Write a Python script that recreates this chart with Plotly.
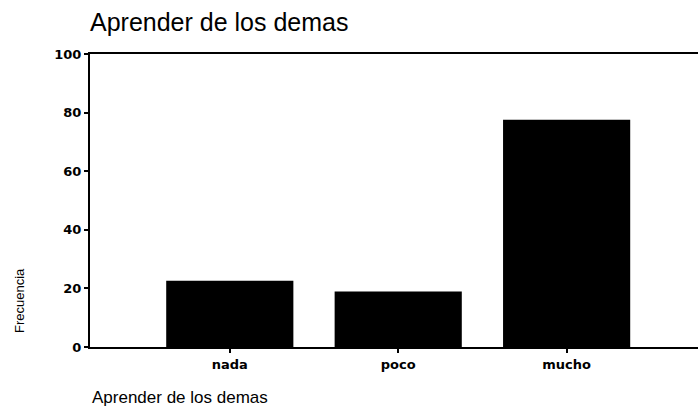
import plotly.graph_objects as go

# valores
categorias = ['nada', 'poco', 'mucho']
frecuencias = [22.6, 18.9, 77.6]
ticks_y = [0, 20, 40, 60, 80, 100]

FONT = 'Liberation Sans, Arial, sans-serif'
TICKFONT = {'family': 'DejaVu Sans', 'size': 13, 'color': 'black', 'weight': 'bold'}

fig = go.Figure()
fig.add_trace(go.Bar(x=categorias,
                     y=frecuencias,
                     width=0.755,
                     marker={'color': 'black', 'line': {'width': 0}},
                     showlegend=False))

fig.update_xaxes(range=[-0.83, 2.78],
                 showline=True, linecolor='black', linewidth=2,
                 mirror=True,
                 ticks='outside', ticklen=4, tickwidth=2, tickcolor='black',
                 showgrid=False, zeroline=False,
                 tickfont=TICKFONT)
fig.update_yaxes(range=[0, 100],
                 tickvals=ticks_y,
                 showline=True, linecolor='black', linewidth=2,
                 ticks='outside', ticklen=4, tickwidth=2, tickcolor='black',
                 showgrid=False, zeroline=False,
                 tickfont=TICKFONT)

fig.update_layout(width=698, height=409,
                  margin={'l': 90, 'r': 0, 't': 54, 'b': 62},
                  paper_bgcolor='white', plot_bgcolor='white',
                  title={'text': 'Aprender de los demas',
                         'font': {'family': FONT, 'size': 25, 'color': 'black'},
                         'xref': 'paper', 'x': 0, 'xanchor': 'left',
                         'yref': 'container', 'y': 0.946, 'yanchor': 'middle'},
                  annotations=[
                      {'text': 'Aprender de los demas', 'xref': 'paper', 'yref': 'paper',
                       'x': 0, 'y': -0.172, 'xanchor': 'left', 'yanchor': 'middle',
                       'showarrow': False,
                       'font': {'family': FONT, 'size': 17, 'color': 'black'}},
                      {'text': 'Frecuencia', 'xref': 'paper', 'yref': 'paper',
                       'x': -0.117, 'y': 0.16, 'xanchor': 'center', 'yanchor': 'middle',
                       'textangle': -90, 'showarrow': False,
                       'font': {'family': FONT, 'size': 13, 'color': 'black'}},
                  ])

# quitar el margen por defecto del body para que el grafico empiece en (0, 0)
fig.write_html('out.html',
               config={'displayModeBar': False},
               post_script="document.body.style.margin='0';")
